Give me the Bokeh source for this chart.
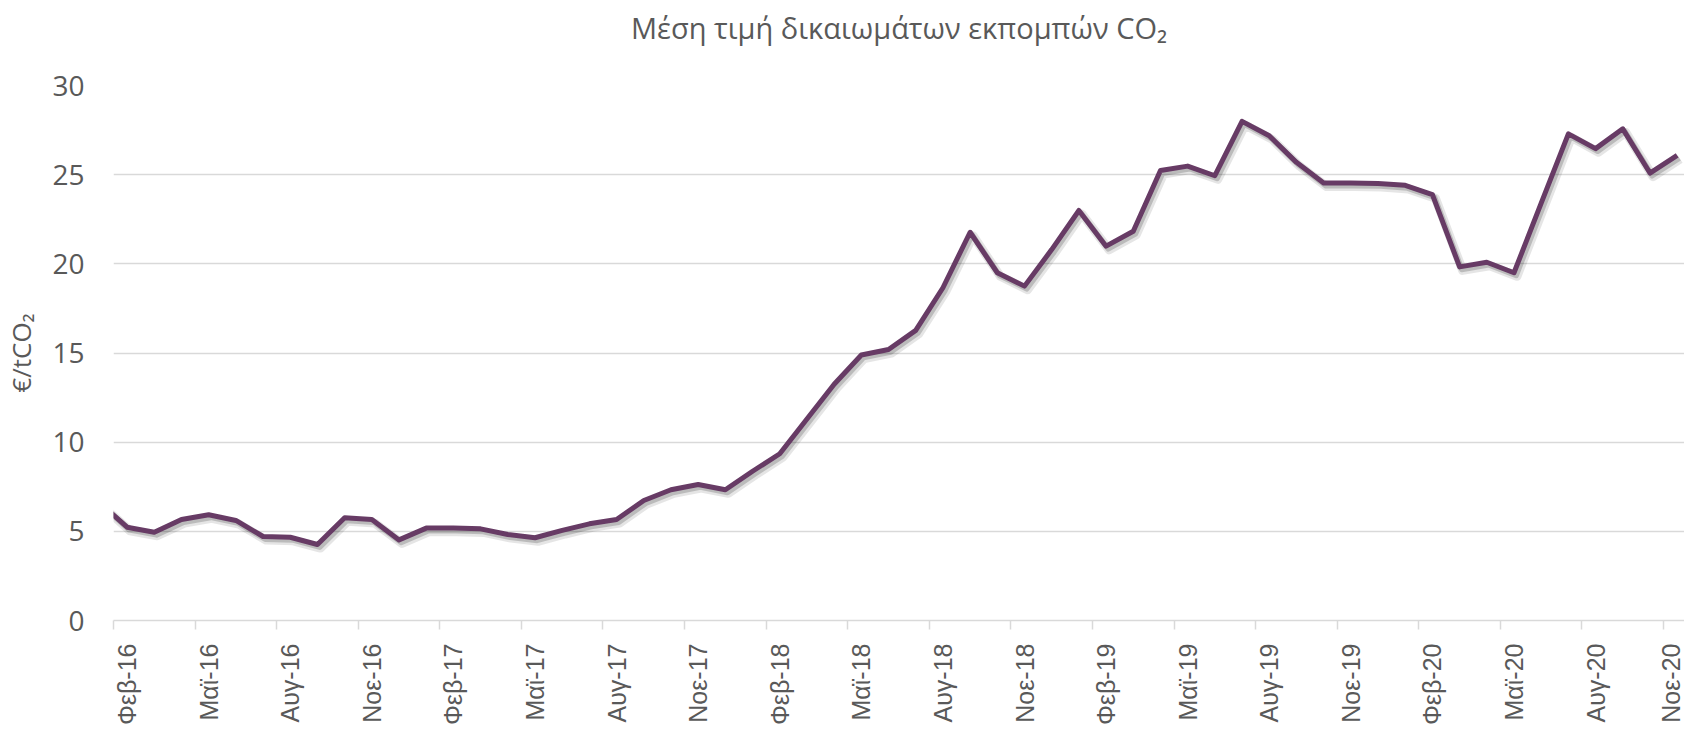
from bokeh.plotting import figure
from bokeh.models import ColumnDataSource, Range1d, FixedTicker, LinearAxis
from bokeh.transform import dodge
from bokeh.embed import file_html
from bokeh.resources import INLINE

# Monthly average price of CO2 allowances (EUR/tCO2), Jan-16 .. Nov-20
month_index = list(range(-1, 58))  # -1 = Jan-16, 0 = Feb-16, ... 57 = Nov-20
price = [
    6.6,                                                            # Jan-16
    5.23, 4.95, 5.66, 5.93, 5.61, 4.71, 4.67, 4.26, 5.76, 5.66, 4.52,  # Feb-16..Dec-16
    5.18, 5.18, 5.14, 4.82, 4.64, 5.05, 5.42, 5.66, 6.73, 7.33, 7.63, 7.33,  # 2017
    8.37, 9.35, 11.3, 13.25, 14.89, 15.2, 16.27, 18.66, 21.77, 19.5, 18.75, 20.8,  # 2018
    22.99, 20.99, 21.83, 25.23, 25.48, 24.94, 27.99, 27.18, 25.69, 24.53, 24.53, 24.51,  # 2019
    24.4, 23.88, 19.83, 20.09, 19.5, 23.4, 27.29, 26.46, 27.57, 25.09, 26.08,  # 2020
]

tick_positions = list(range(0, 58, 3))
tick_labels = [
    "Φεβ-16", "Μαϊ-16", "Αυγ-16", "Νοε-16",
    "Φεβ-17", "Μαϊ-17", "Αυγ-17", "Νοε-17",
    "Φεβ-18", "Μαϊ-18", "Αυγ-18", "Νοε-18",
    "Φεβ-19", "Μαϊ-19", "Αυγ-19", "Νοε-19",
    "Φεβ-20", "Μαϊ-20", "Αυγ-20", "Νοε-20",
]
y_ticks = [0, 5, 10, 15, 20, 25, 30]
title_text = "Μέση τιμή δικαιωμάτων εκπομπών CO₂"

TEXT = "#595959"
GRID = "#D9D9D9"
LINE = "#673B65"

p = figure(
    width=1684, height=729,
    output_backend="svg", toolbar_location=None,
    x_range=Range1d(-0.5, 57.27), y_range=Range1d(0, 30),
    min_border_left=112, min_border_right=0, min_border_top=85, min_border_bottom=109,
)
p.outline_line_color = None
p.background_fill_color = "white"
p.border_fill_color = "white"
p.title.visible = False

# keep references to the real axes before adding the title axis
xa = p.below[0]
ya = p.left[0]

# Title: carried by a tick-less axis above the plot area, at a fixed standoff
title_axis = LinearAxis(
    ticker=FixedTicker(ticks=[]), axis_line_color=None,
    major_tick_out=0, major_tick_in=0, major_tick_line_color=None,
    minor_tick_out=0, minor_tick_in=0, minor_tick_line_color=None,
    major_label_standoff=0,
    axis_label=title_text,
    axis_label_text_font="Open Sans",
    axis_label_text_font_size="29px",
    axis_label_text_font_style="normal",
    axis_label_text_color=TEXT,
    axis_label_standoff=39,
)
p.add_layout(title_axis, "above")

# X axis: labels at mid-month, boundary tick marks every 3 months
xa.ticker = FixedTicker(ticks=tick_positions, minor_ticks=[t - 0.5 for t in tick_positions])
xa.major_label_overrides = {t: l for t, l in zip(tick_positions, tick_labels)}
xa.major_label_orientation = 3.14159265 / 2
xa.major_label_text_font = "Liberation Sans"
xa.major_label_text_font_size = "25px"
xa.major_label_text_color = TEXT
xa.major_label_standoff = 14
xa.major_tick_out = 0
xa.major_tick_in = 0
xa.major_tick_line_color = None
xa.minor_tick_out = 9
xa.minor_tick_in = 0
xa.minor_tick_line_color = GRID
xa.minor_tick_line_width = 1.5
xa.axis_line_color = GRID
xa.axis_line_width = 1.5

# Y axis
ya.ticker = FixedTicker(ticks=y_ticks)
ya.axis_line_color = None
ya.major_tick_line_color = None
ya.minor_tick_line_color = None
ya.major_tick_out = 0
ya.major_tick_in = 0
ya.major_label_text_font = "Open Sans"
ya.major_label_text_font_size = "28px"
ya.major_label_text_color = TEXT
ya.major_label_standoff = 29
ya.axis_label = "€/tCO₂"
ya.axis_label_text_font = "Open Sans"
ya.axis_label_text_font_size = "26px"
ya.axis_label_text_font_style = "normal"
ya.axis_label_text_color = TEXT
ya.axis_label_standoff = 10

p.xgrid.grid_line_color = None
p.ygrid.ticker = FixedTicker(ticks=y_ticks)
p.ygrid.grid_line_color = GRID
p.ygrid.grid_line_width = 1.5

src = ColumnDataSource(dict(x=month_index, y=price))

# soft shadow
p.line(x=dodge("x", 0.11, range=p.x_range), y=dodge("y", -0.2, range=p.y_range), source=src,
       line_color="black", line_alpha=0.1, line_width=9, line_join="round")
p.line(x=dodge("x", 0.08, range=p.x_range), y=dodge("y", -0.15, range=p.y_range), source=src,
       line_color="black", line_alpha=0.18, line_width=5.5, line_join="round")
# main line
p.line(x="x", y="y", source=src, line_color=LINE, line_width=5, line_join="round")

open("out.html", "w").write(file_html(p, INLINE))
